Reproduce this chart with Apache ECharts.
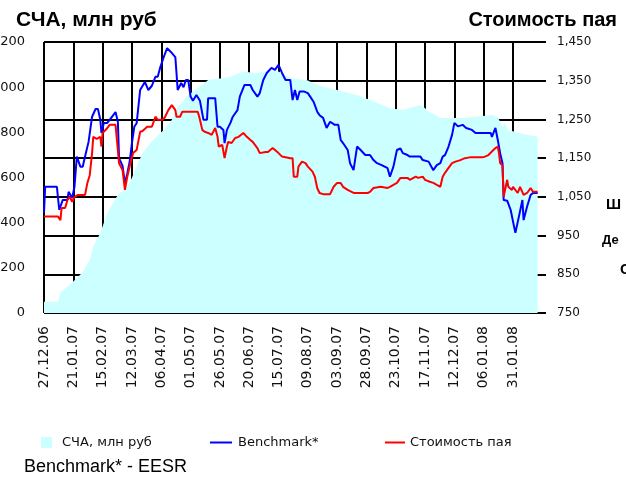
<!DOCTYPE html>
<html>
<head>
<meta charset="UTF-8">
<title></title>
<script src="https://cdn.jsdelivr.net/npm/echarts@6/dist/echarts.min.js"></script>
</head>
<body style="margin:0;background:#fff;">
<div id="echart" style="width:626px;height:485px;"></div>
<script type="text/javascript">
// x = дни от 27.12.06, подписи каждые 25 дней
var dateLabels = ['27.12.06','21.01.07','15.02.07','12.03.07','06.04.07','01.05.07','26.05.07','20.06.07','15.07.07',
	'09.08.07','03.09.07','28.09.07','23.10.07','17.11.07','12.12.07','06.01.08','31.01.08'];
var lastDay = 423;

// СЧА, млн руб (левая ось)
var nav = [[0,50],[12,50],[14,90],[25,140],[33,180],[39,235],[42,294],[48,354],[54,443],[62,515],[73,575],[79,648],
	[84,708],[93,766],[102,810],[109,855],[114,912],[123,965],[129,988],[135,1010],[140,1032],[152,1040],[160,1047],
	[166,1062],[171,1069],[180,1062],[189,1069],[197,1076],[203,1062],[210,1040],[224,1032],[233,1010],[250,988],
	[267,965],[278,943],[295,907],[306,899],[315,912],[321,921],[325,907],[328,890],[334,877],[338,864],[359,864],
	[382,877],[387,868],[391,824],[393,841],[396,810],[405,797],[413,788],[421,780]];

// Benchmark* (правая ось)
var benchmark = [[0,1010],[1,1076],[11,1076],[13,1016],[16,1042],[20,1042],[21,1063],[24,1047],[26,1076],[28,1154],
	[31,1128],[33,1128],[35,1154],[38,1192],[39,1192],[41,1257],[44,1277],[46,1277],[48,1249],[49,1215],[51,1241],
	[54,1241],[56,1249],[61,1269],[63,1244],[64,1150],[67,1130],[69,1085],[71,1110],[73,1140],[75,1189],[77,1231],
	[79,1240],[82,1326],[86,1347],[89,1326],[92,1337],[95,1360],[97,1360],[99,1383],[102,1410],[105,1434],[108,1425],
	[112,1411],[113,1370],[114,1326],[117,1344],[119,1333],[121,1352],[123,1352],[125,1309],[127,1298],[130,1313],
	[131,1313],[133,1298],[136,1249],[139,1249],[140,1305],[146,1305],[148,1231],[150,1231],[153,1223],[154,1189],
	[156,1223],[159,1241],[161,1257],[165,1274],[167,1309],[171,1339],[176,1339],[178,1326],[182,1309],[184,1318],
	[187,1352],[190,1370],[194,1383],[197,1378],[200,1391],[203,1370],[206,1352],[210,1352],[212,1300],[214,1326],
	[216,1300],[218,1322],[222,1322],[225,1318],[227,1309],[230,1295],[233,1270],[235,1261],[238,1254],[241,1228],
	[244,1244],[248,1236],[251,1236],[253,1197],[255,1189],[259,1171],[261,1137],[264,1119],[267,1180],[270,1171],
	[274,1158],[278,1158],[281,1145],[284,1137],[288,1132],[293,1124],[295,1102],[298,1128],[301,1171],[304,1175],
	[306,1163],[310,1158],[312,1154],[321,1154],[323,1145],[328,1141],[332,1119],[335,1132],[338,1137],[340,1154],
	[342,1158],[345,1180],[348,1210],[350,1241],[353,1232],[357,1236],[360,1228],[365,1223],[368,1215],[381,1215],
	[382,1205],[385,1228],[387,1197],[389,1163],[391,1137],[392,1042],[395,1040],[398,1016],[400,986],[402,957],
	[405,999],[408,1042],[409,990],[412,1025],[415,1055],[417,1060],[421,1060]];

// Стоимость пая (правая ось)
var price = [[0,999],[12,999],[14,990],[15,1021],[18,1021],[20,1042],[22,1050],[24,1037],[26,1050],[29,1055],[35,1055],
	[37,1086],[39,1106],[41,1163],[42,1205],[45,1200],[48,1205],[49,1180],[50,1215],[54,1228],[56,1236],[61,1236],
	[62,1241],[64,1137],[67,1119],[69,1068],[71,1102],[73,1128],[76,1163],[79,1171],[82,1218],[84,1220],[88,1231],
	[92,1231],[95,1257],[97,1249],[101,1249],[103,1255],[106,1274],[109,1287],[112,1274],[113,1257],[116,1257],
	[118,1270],[121,1270],[122,1274],[125,1270],[131,1270],[132,1261],[133,1249],[135,1223],[137,1218],[140,1215],
	[143,1210],[146,1228],[148,1205],[149,1180],[152,1184],[154,1150],[156,1180],[157,1192],[160,1189],[163,1202],
	[166,1205],[170,1215],[173,1205],[176,1197],[178,1192],[182,1176],[184,1163],[189,1166],[191,1166],[195,1176],
	[197,1171],[200,1163],[203,1154],[210,1150],[212,1150],[213,1102],[216,1102],[217,1128],[220,1141],[223,1137],
	[225,1128],[229,1115],[231,1102],[233,1073],[235,1060],[238,1057],[244,1057],[247,1076],[250,1086],[253,1086],
	[255,1076],[259,1068],[264,1060],[267,1060],[276,1060],[278,1063],[281,1073],[287,1076],[293,1073],[295,1076],
	[301,1086],[304,1099],[310,1099],[312,1094],[317,1102],[319,1099],[323,1102],[325,1094],[329,1089],[332,1086],
	[335,1081],[338,1076],[340,1102],[342,1112],[345,1125],[348,1137],[351,1141],[355,1145],[359,1150],[363,1152],
	[374,1152],[376,1154],[379,1158],[382,1167],[385,1176],[387,1180],[388,1163],[389,1137],[391,1132],[392,1050],
	[393,1050],[395,1094],[396,1076],[399,1068],[400,1076],[404,1060],[406,1076],[409,1055],[412,1060],[415,1073],
	[417,1063],[421,1063]];

var myChart = echarts.init(document.getElementById('echart'));

function thousands(v) {
	if (v >= 1000) {
		var r = String(v % 1000);
		while (r.length < 3) r = '0' + r;
		return Math.floor(v / 1000) + ',' + r;
	}
	return String(v);
}

var legendText = {color: '#111', fontFamily: 'DejaVu Sans', fontSize: 13};

myChart.setOption({
	animation: false,
	backgroundColor: '#fff',
	title: [{
		text: 'СЧА, млн руб', left: 11, top: 5,
		textStyle: {fontFamily: 'Liberation Sans', fontWeight: 'bold', fontSize: 21, color: '#000'}
	}, {
		text: 'Стоимость пая', right: 4, top: 5,
		textStyle: {fontFamily: 'Liberation Sans', fontWeight: 'bold', fontSize: 20, color: '#000'}
	}],
	legend: [{
		data: ['СЧА, млн руб'], left: 36, top: 431, icon: 'rect', itemWidth: 11, itemHeight: 11,
		textStyle: Object.assign({padding: [0, 0, 0, 5]}, legendText)
	}, {
		data: ['Benchmark*'], left: 205, top: 431, icon: 'rect', itemWidth: 22, itemHeight: 2,
		textStyle: Object.assign({padding: [0, 0, 0, 1]}, legendText)
	}, {
		data: ['Стоимость пая'], left: 380, top: 431, icon: 'rect', itemWidth: 20, itemHeight: 2,
		textStyle: Object.assign({padding: [0, 0, 0, 0]}, legendText)
	}],
	grid: {left: 44, right: 86, top: 42, bottom: 172, outerBoundsMode: 'none'},
	xAxis: {
		type: 'value', min: 0, max: lastDay, interval: 25,
		axisLine: {show: false},
		axisTick: {show: false},
		splitLine: {show: true, showMaxLine: false, lineStyle: {color: '#000', width: 2}},
		axisLabel: {
			rotate: 90, margin: 13, color: '#111', fontFamily: 'DejaVu Sans', fontSize: 14,
			showMaxLabel: false,
			formatter: function (v) {
				return v % 25 === 0 && dateLabels[v / 25] ? dateLabels[v / 25] : '';
			}
		}
	},
	yAxis: [{
		type: 'value', min: 0, max: 1200, interval: 200, position: 'left',
		axisLine: {show: false}, axisTick: {show: false}, splitLine: {show: false},
		axisLabel: {margin: 19, color: '#111', fontFamily: 'DejaVu Sans', fontSize: 13,
			formatter: function (v) { return String(v); }}
	}, {
		type: 'value', min: 750, max: 1450, interval: 100, position: 'right',
		axisLine: {show: false},
		axisTick: {show: true, length: 6, lineStyle: {color: '#000', width: 2}},
		splitLine: {show: true, lineStyle: {color: '#000', width: 2}},
		axisLabel: {margin: 17, color: '#111', fontFamily: 'DejaVu Sans', fontSize: 12, formatter: thousands}
	}],
	series: [{
		name: 'СЧА, млн руб', type: 'line', yAxisIndex: 0, data: nav,
		symbol: 'none', lineStyle: {width: 0, color: '#ccffff'},
		itemStyle: {color: '#ccffff'},
		areaStyle: {color: '#ccffff', opacity: 1}
	}, {
		name: 'Benchmark*', type: 'line', yAxisIndex: 1, data: benchmark,
		symbol: 'none', lineStyle: {width: 2, color: '#0000ff'}, itemStyle: {color: '#0000ff'}
	}, {
		name: 'Стоимость пая', type: 'line', yAxisIndex: 1, data: price,
		symbol: 'none', lineStyle: {width: 2, color: '#ff0000'}, itemStyle: {color: '#ff0000'}
	}],
	graphic: [
		{type: 'text', left: 24, top: 458, style: {text: 'Benchmark* - EESR', fontFamily: 'Liberation Sans', fontSize: 18, fill: '#000'}},
		{type: 'text', left: 606, top: 197, style: {text: 'Ш', fontFamily: 'Liberation Sans', fontWeight: 'bold', fontSize: 15, fill: '#000'}},
		{type: 'text', left: 602, top: 234, style: {text: 'Де', fontFamily: 'Liberation Sans', fontWeight: 'bold', fontSize: 13, fill: '#000'}},
		{type: 'text', left: 620, top: 262, style: {text: 'С', fontFamily: 'Liberation Sans', fontWeight: 'bold', fontSize: 15, fill: '#000'}}
	]
});
</script>
</body>
</html>
